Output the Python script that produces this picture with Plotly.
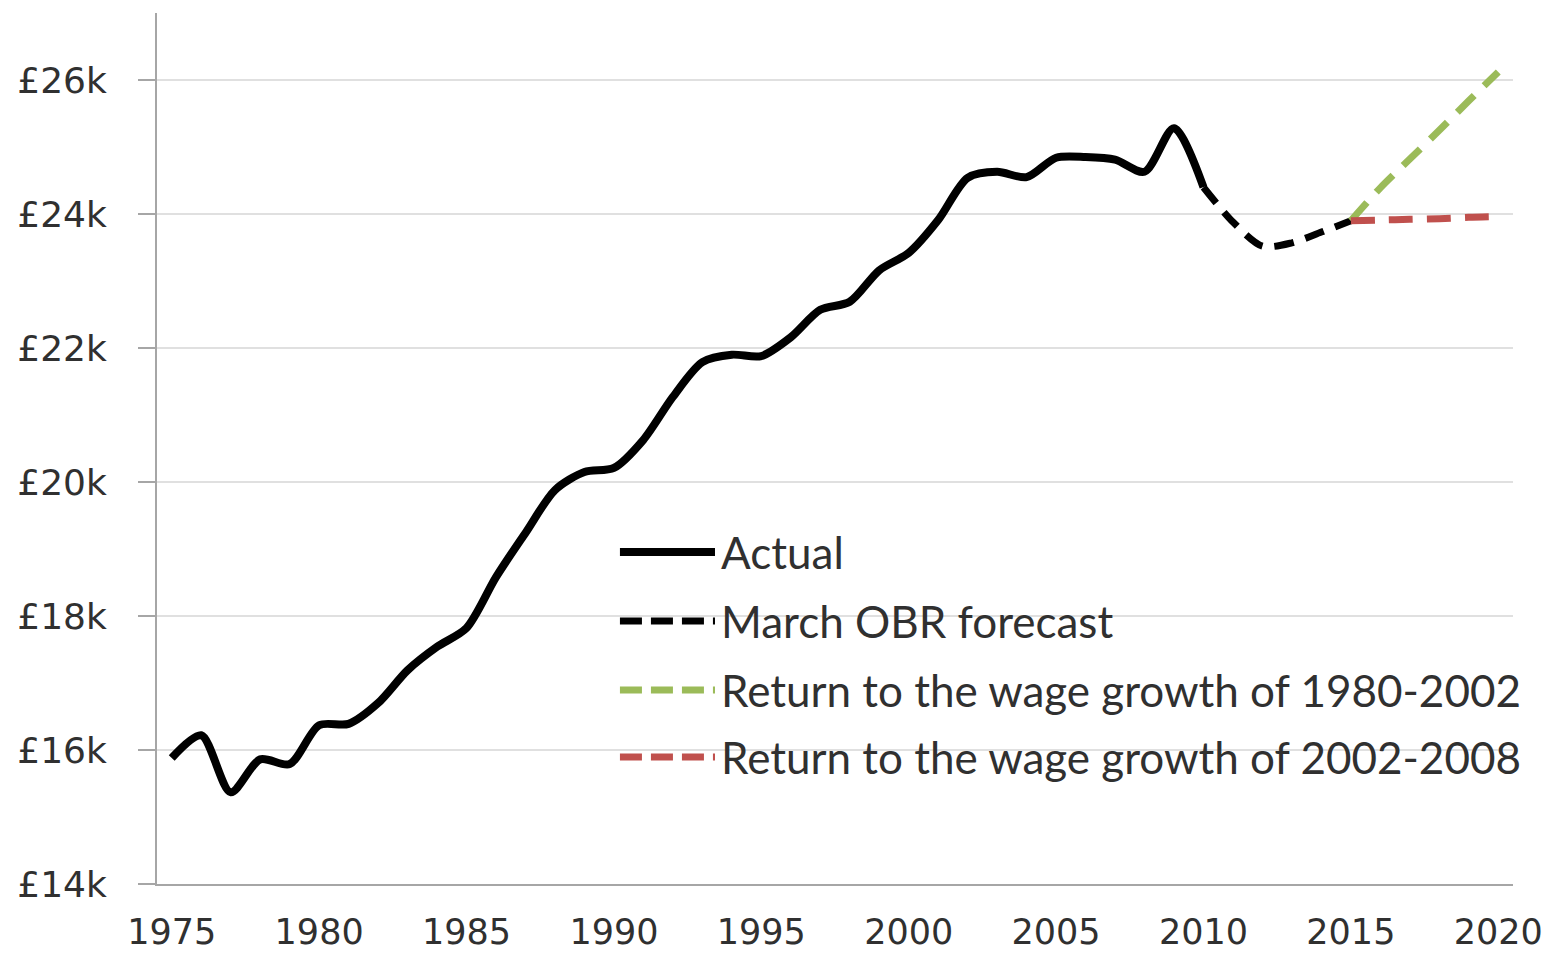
import plotly.graph_objects as go

# average earnings, £k
actual_years = list(range(1975, 2011))
actual_vals = [15.88, 16.22, 15.37, 15.86, 15.79, 16.37, 16.39, 16.70, 17.19, 17.54,
               17.82, 18.58, 19.24, 19.88, 20.15, 20.21, 20.63, 21.27, 21.79, 21.90,
               21.88, 22.16, 22.57, 22.69, 23.16, 23.42, 23.91, 24.54, 24.63, 24.55,
               24.84, 24.85, 24.81, 24.63, 25.28, 24.40]

obr_years = [2010, 2011, 2012, 2013, 2014, 2015]
obr_vals = [24.40, 23.88, 23.52, 23.57, 23.73, 23.90]

proj_years = [2015, 2016, 2017, 2018, 2019, 2020]
growth_80_02 = [23.90, 24.39, 24.82, 25.25, 25.69, 26.12]
growth_02_08 = [23.90, 23.91, 23.92, 23.93, 23.95, 23.96]

names = ["Actual", "March OBR forecast",
         "Return to the wage growth of 1980-2002",
         "Return to the wage growth of 2002-2008"]
colors = ["#000000", "#000000", "#9bbb59", "#c0504d"]
dashes = ["solid", "20px,12px", "24px,14px", "24px,14px"]
widths = [8, 7, 7, 7]

y_ticks = [14, 16, 18, 20, 22, 24, 26]
y_labels = ["£14k", "£16k", "£18k", "£20k", "£22k", "£24k", "£26k"]
x_ticks = [1975, 1980, 1985, 1990, 1995, 2000, 2005, 2010, 2015, 2020]

series = [(actual_years, actual_vals), (obr_years, obr_vals),
          (proj_years, growth_80_02), (proj_years, growth_02_08)]

fig = go.Figure()
for (xs, ys), name, c, d, w in zip(series, names, colors, dashes, widths):
    fig.add_trace(go.Scatter(x=xs, y=ys, mode="lines", name=name, showlegend=False,
                             line=dict(color=c, width=w, dash=d, shape="spline", smoothing=0.8)))

# hand-made legend so the sample lines are long like the original
leg_y = [0.3812, 0.3020, 0.2227, 0.1458]
for i, name in enumerate(names):
    fig.add_shape(type="line", xref="paper", yref="paper", x0=0.3414, x1=0.4115,
                  y0=leg_y[i], y1=leg_y[i],
                  line=dict(color=colors[i], width=widths[i],
                            dash="solid" if i == 0 else "22px,9px"))
    fig.add_annotation(xref="paper", yref="paper", x=0.4167, y=leg_y[i], text=name,
                       showarrow=False, xanchor="left", yanchor="middle", xshift=-3,
                       font=dict(family="Lato", size=44, color="#303030"))

fig.update_layout(
    width=1553, height=957,
    margin=dict(l=157, r=40, t=13, b=73),
    paper_bgcolor="white", plot_bgcolor="white",
    font=dict(family="DejaVu Sans", size=36, color="#303030"),
)
fig.update_xaxes(range=[1974.5, 2020.5], tickvals=x_ticks, showgrid=False,
                 showline=True, linecolor="#a6a6a6", linewidth=2, ticks="",
                 tickfont=dict(size=35), ticklabelstandoff=16,
                 zeroline=False, automargin=False)
fig.update_yaxes(range=[14, 27], tickvals=y_ticks, ticktext=y_labels,
                 showgrid=True, gridcolor="#e0e0e0", gridwidth=2,
                 showline=True, linecolor="#a6a6a6", linewidth=2,
                 ticks="outside", ticklen=17, tickcolor="#a6a6a6", tickwidth=2,
                 ticklabelstandoff=24, zeroline=False, automargin=False)

# drop the default 8px body margin so the figure fills the window
fig.write_html("out.html", config={"displayModeBar": False},
               post_script="document.body.style.margin = '0';")
